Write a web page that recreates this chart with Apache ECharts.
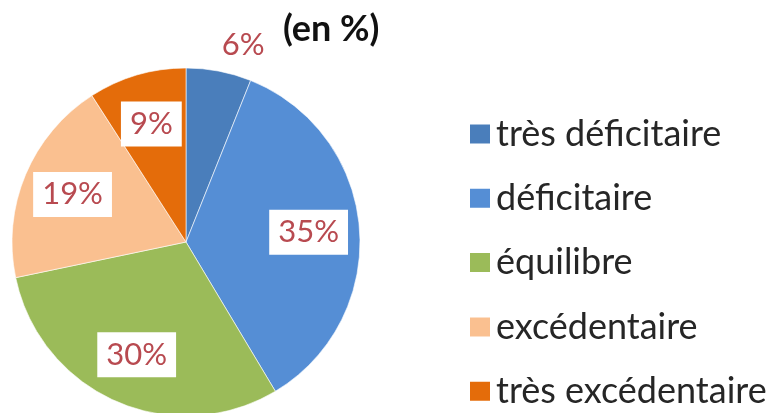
<!DOCTYPE html>
<html><head><meta charset="utf-8">
<script src="https://cdn.jsdelivr.net/npm/echarts@6/dist/echarts.min.js"></script>
<style>html,body{margin:0;padding:0;background:#fff}#c{width:776px;height:413px}</style>
</head><body><div id="c"></div>
<script>
const categories = ['très déficitaire', 'déficitaire', 'équilibre', 'excédentaire', 'très excédentaire'];
const values = [6, 35, 30, 19, 9];
const colors = ['#4A7EBB', '#558ED5', '#9BBB59', '#FAC090', '#E46C0A'];
const titleText = '(en %)';

const chart = echarts.init(document.getElementById('c'), null, {renderer: 'canvas'});
const center = [186, 242];
const font = 'Lato, "Open Sans", sans-serif';
const labelColor = '#B84A50';

const mainData = categories.map((n, i) => ({name: n, value: values[i], itemStyle: {color: colors[i]}}));
const labelData = categories.map((n, i) => {
  const d = {name: n, value: values[i]};
  if (i === 0) {
    d.label = {offset: [34, -76], backgroundColor: 'transparent'};
  }
  return d;
});

chart.setOption({
  animation: false,
  title: {
    text: titleText, left: 278, top: 6,
    textStyle: {fontFamily: font, fontSize: 36, fontWeight: 'bold', color: '#111'}
  },
  legend: {
    orient: 'vertical', left: 463, top: 111, height: 300, width: 320,
    data: categories,
    itemWidth: 22, itemHeight: 21, itemGap: 28.3,
    icon: 'rect',
    textStyle: {fontFamily: font, fontSize: 36, color: '#262626', padding: [0, 0, 0, 0]},
    selectedMode: false
  },
  series: [
    {
      type: 'pie', center: center, radius: [0, 174],
      startAngle: 90, clockwise: true,
      data: mainData,
      label: {show: false}, labelLine: {show: false},
      itemStyle: {borderColor: '#fff', borderWidth: 0.6},
      silent: true
    },
    {
      type: 'pie', center: center, radius: [0, 240],
      startAngle: 90, clockwise: true,
      data: labelData,
      itemStyle: {color: 'rgba(0,0,0,0)'},
      label: {
        show: true, position: 'inside',
        formatter: p => p.value + '%',
        fontFamily: font, fontSize: 31, color: labelColor,
        backgroundColor: '#fff', padding: [8, 9, 6, 9]
      },
      labelLine: {show: false},
      silent: true
    }
  ]
});
</script>
</body></html>
